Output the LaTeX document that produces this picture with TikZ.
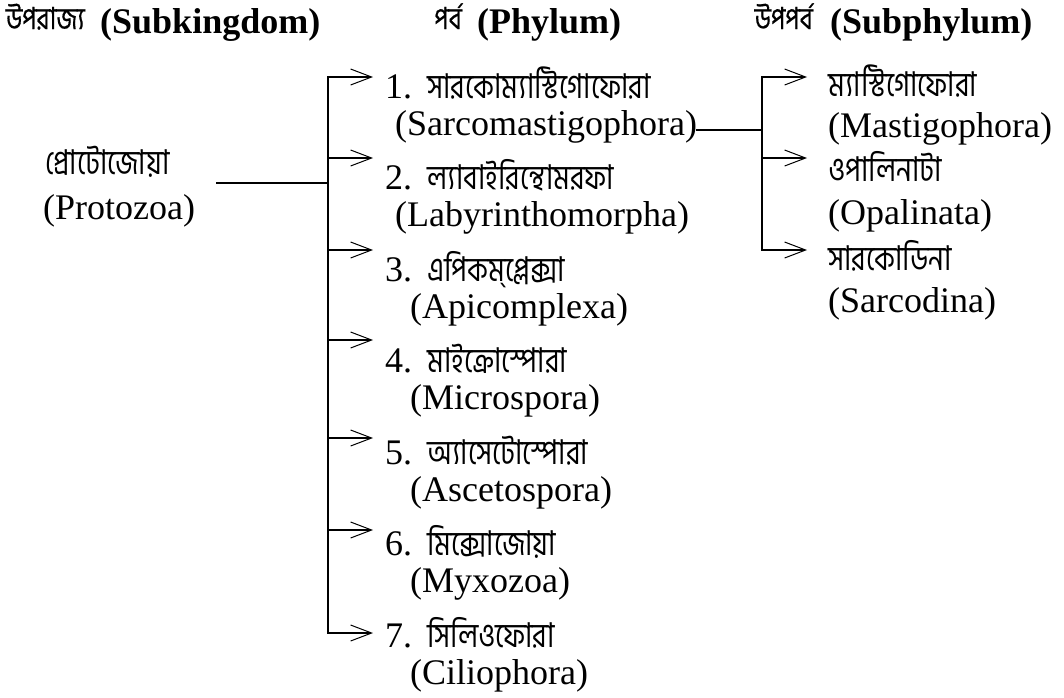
\documentclass[tikz,border=0pt]{standalone}
\usepackage{graphicx}
\usepackage{fontspec}
\setmainfont{Liberation Serif}
\newfontfamily\bn[Script=Bengali]{Hind Siliguri}
\newfontfamily\bnhead[Script=Bengali,FakeBold=0.6]{Hind Siliguri}
\usetikzlibrary{arrows.meta}

% Bengali text, set a little taller than the font's own proportions
\newcommand{\bntall}[1]{\scalebox{1}[1.22]{\bn #1}}
\newcommand{\bnhd}[1]{\scalebox{1}[1.22]{\bnhead #1}}

\begin{document}
\begin{tikzpicture}[x=1pt,y=-1pt,
  lbl/.style={anchor=base west,inner sep=0pt,font=\fontsize{36}{40}\selectfont},
  hdr/.style={anchor=base west,inner sep=0pt,font=\fontsize{36}{40}\selectfont\bfseries},
  bng/.style={anchor=base west,inner sep=0pt,font=\fontsize{28}{32}\selectfont},
  bnghd/.style={anchor=base east,inner sep=0pt,font=\fontsize{25}{30}\selectfont},
  wire/.style={line width=1.8pt,line cap=rect},
  branch/.style={line width=1.8pt,-{Straight Barb[length=21pt,width=16pt,line width=1pt]}}]
\useasboundingbox (0,0) rectangle (1064,697);

% column headings
\node[bnghd] (hsk) at (85,29) {\bnhd{উপরাজ্য}};
\node[hdr] (hskl) at (100,33) {(Subkingdom)};
\node[bnghd] (hph) at (462,29) {\bnhd{পর্ব}};
\node[hdr] (hphl) at (477,33) {(Phylum)};
\node[bnghd] (hsp) at (813,29) {\bnhd{উপপর্ব}};
\node[hdr] (hspl) at (830,33) {(Subphylum)};

% subkingdom
\node[bng] (pz) at (45,174) {\bntall{প্রোটোজোয়া}};
\node[lbl] (pzl) at (43,219) {(Protozoa)};

% phyla
\foreach \n/\bt/\lt/\lx/\ay [count=\k from 0] in {
  1/সারকোম্যাস্টিগোফোরা/Sarcomastigophora/395/77,
  2/ল্যাবাইরিন্থোমরফা/Labyrinthomorpha/395/158,
  3/এপিকম্‌প্লেক্সা/Apicomplexa/410/250,
  4/মাইক্রোস্পোরা/Microspora/410/340,
  5/অ্যাসেটোস্পোরা/Ascetospora/410/438,
  6/মিক্সোজোয়া/Myxozoa/410/530,
  7/সিলিওফোরা/Ciliophora/410/633}{
  \pgfmathsetmacro{\yb}{98+91.5*\k}
  \pgfmathsetmacro{\yl}{135+91.5*\k}
  \node[lbl] (pn\n) at (385,\yb) {\n.};
  \node[bng] (pb\n) at (427,\yb) {\bntall{\bt}};
  \node[lbl] (pl\n) at (\lx,\yl) {(\lt)};
  \coordinate (pt\n) at (328,\ay);
  \coordinate (pa\n) at (373,\ay);
  \draw[branch] (pt\n) -- (pa\n);
}

% trunk from the subkingdom
\coordinate (root) at (217,183);
\coordinate (hub) at (328,183);
\draw[wire] (root) -- (hub);
\draw[wire] (pt1) -- (pt7);

% subphyla
\foreach \n/\bt/\lt/\yb/\yl/\ay in {
  1/ম্যাস্টিগোফোরা/Mastigophora/96/137/77,
  2/ওপালিনাটা/Opalinata/181/224/158,
  3/সারকোডিনা/Sarcodina/270/312/250}{
  \node[bng] (sb\n) at (828,\yb) {\bntall{\bt}};
  \node[lbl] (sl\n) at (828,\yl) {(\lt)};
  \coordinate (st\n) at (762,\ay);
  \coordinate (sa\n) at (807,\ay);
  \draw[branch] (st\n) -- (sa\n);
}
\coordinate (shub) at (762,130);
\draw[wire] (pl1.east |- shub) -- (shub);
\draw[wire] (st1) -- (st3);
\end{tikzpicture}
\end{document}
